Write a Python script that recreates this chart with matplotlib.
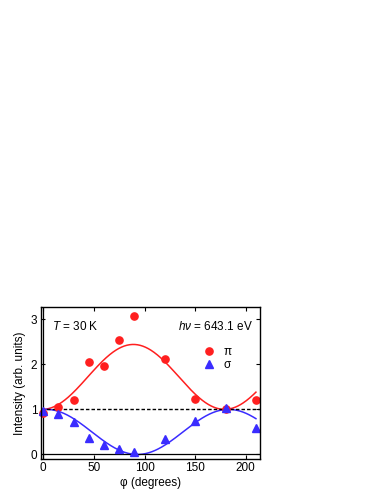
import numpy as np
import matplotlib
matplotlib.use("Agg")
import matplotlib.pyplot as plt

plt.rcParams["font.family"] = ["Liberation Sans", "DejaVu Sans"]
plt.rcParams["mathtext.fontset"] = "custom"
plt.rcParams["mathtext.it"] = "Liberation Sans:italic"
plt.rcParams["mathtext.rm"] = "Liberation Sans"

# measured points
phi = [0, 15, 30, 45, 60, 75, 90, 120, 150, 180, 210]
pi_int = [0.92, 1.06, 1.21, 2.06, 1.97, 2.53, 3.06, 2.11, 1.23, 1.00, 1.21]
sigma_int = [0.97, 0.89, 0.71, 0.36, 0.22, 0.12, 0.05, 0.34, 0.75, 1.03, 0.58]

# fit parameters
pi_base, pi_amp, pi_phase = 1.0, 1.44, -1.0
sig_amp, sig_phase = 1.0, 3.0

red = "#ff1f1f"
blue = "#3a2cff"
fs = 8.5

fig = plt.figure(figsize=(3.82, 4.94), dpi=100)
ax = fig.add_axes([0.1065, 0.0709, 0.5741, 0.3076])

xf = np.linspace(0, 210, 400)
ax.plot(xf, pi_base + pi_amp * np.sin(np.radians(xf - pi_phase)) ** 2, color=red, lw=1.1)
ax.plot(xf, sig_amp * np.cos(np.radians(xf - sig_phase)) ** 2, color=blue, lw=1.1)
ax.axhline(1, color="black", lw=1.0, ls=(0, (2.5, 1.5)))
ax.axhline(0, color="black", lw=0.9)
ax.axvline(0, color="black", lw=0.9)

ax.plot(phi, pi_int, "o", color=red, ms=5.2, ls="none", label="π", clip_on=False)
ax.plot(phi, sigma_int, "^", color=blue, ms=5.5, ls="none", label="σ", clip_on=False)

ax.set_xlim(-2.5, 214)
ax.set_ylim(-0.1, 3.27)
ax.set_xticks([0, 50, 100, 150, 200])
ax.set_yticks([0, 1, 2, 3])
ax.tick_params(direction="in", top=True, right=True, labelsize=fs, length=3, width=0.8, pad=2.5)
for s in ax.spines.values():
    s.set_linewidth(1.0)

ax.set_xlabel("φ (degrees)", fontsize=fs, labelpad=1.5)
ax.set_ylabel("Intensity (arb. units)", fontsize=fs, labelpad=3)

ax.text(0.05, 0.87, r"$T$ = 30 K", transform=ax.transAxes, fontsize=fs, va="center")
ax.text(0.965, 0.87, r"$h\nu$ = 643.1 eV", transform=ax.transAxes, fontsize=fs,
        va="center", ha="right")

ax.legend(loc="upper right", bbox_to_anchor=(0.92, 0.815), frameon=False, fontsize=fs,
          handletextpad=0.5, labelspacing=0.12, handlelength=1.5)

fig.savefig("out.png", dpi=100)
